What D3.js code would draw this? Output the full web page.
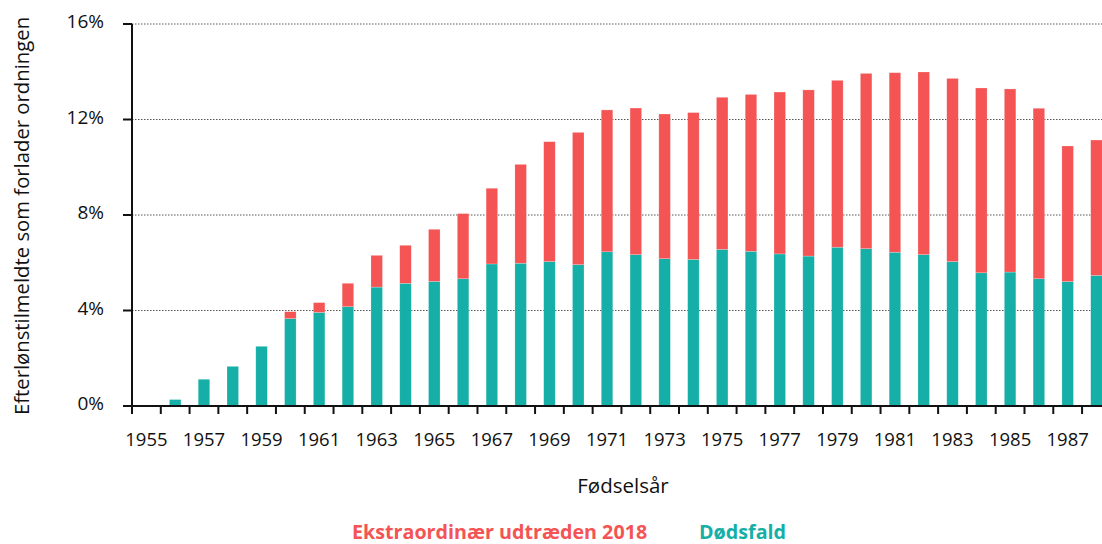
<!DOCTYPE html>
<html><head><meta charset="utf-8">
<script src="https://cdn.jsdelivr.net/npm/d3@7"></script>
<style>
body{margin:0;background:#fff;}
svg{display:block;font-family:"Open Sans",Lato,sans-serif;}
</style></head>
<body><svg id="c" width="1102" height="544"></svg>
<script>
const years = d3.range(1955, 1989);
const dodsfald = [0,0.27,1.12,1.66,2.50,3.66,3.92,4.16,4.98,5.14,5.22,5.33,5.95,5.98,6.05,5.92,6.46,6.34,6.17,6.14,6.56,6.48,6.37,6.28,6.65,6.59,6.44,6.34,6.05,5.58,5.61,5.33,5.21,5.47];
const total = [0,0.27,1.12,1.66,2.50,3.95,4.33,5.14,6.31,6.73,7.40,8.06,9.12,10.12,11.07,11.46,12.40,12.48,12.23,12.29,12.93,13.05,13.15,13.24,13.64,13.93,13.96,13.99,13.72,13.32,13.28,12.47,10.89,11.14];
const ekstra = total.map((t,i)=>Math.max(0,+(t-dodsfald[i]).toFixed(2)));
const yTicks = [0,4,8,12,16];
const xTickLabels = years.filter(y=>(y-1955)%2===0);
const seriesNames = ["Ekstraordinær udtræden 2018","Dødsfald"];
const colors = {"Ekstraordinær udtræden 2018":"#F45454","Dødsfald":"#15AFA8"};

const svg = d3.select("#c");
const x0 = 132, bw = 28.79;
const x = d3.scaleBand().domain(years).range([x0, x0 + bw*years.length]).paddingInner(0.6).paddingOuter(0.3);
const y = d3.scaleLinear().domain([0,16]).range([406,24]);

// grid
svg.append("g").selectAll("line").data(yTicks.filter(d=>d>0)).join("line")
  .attr("x1",x0).attr("x2",1102).attr("y1",d=>y(d)).attr("y2",d=>y(d))
  .attr("stroke","#555").attr("stroke-width",1).attr("stroke-dasharray","1.5,1.5");

// stacked bars
const rows = years.map((yr,i)=>({year:yr,"Dødsfald":dodsfald[i],"Ekstraordinær udtræden 2018":ekstra[i]}));
const stack = d3.stack().keys(["Dødsfald","Ekstraordinær udtræden 2018"])(rows);
svg.append("g").selectAll("g").data(stack).join("g").attr("fill",d=>colors[d.key])
  .selectAll("rect").data(d=>d).join("rect")
  .attr("x",d=>x(d.data.year)).attr("width",x.bandwidth())
  .attr("y",d=>y(d[1])).attr("height",d=>Math.max(0,y(d[0])-y(d[1])))
  .attr("stroke","rgba(255,255,255,0.35)").attr("stroke-width",0.6);

// x axis
const xAxis = svg.append("g").attr("transform","translate(0,406)");
xAxis.append("line").attr("x1",x0-9).attr("x2",1102).attr("stroke","#111").attr("stroke-width",2);
const tickPos = d3.range(0, years.length).map(i=>x0 + i*bw);
xAxis.selectAll("line.t").data(tickPos).join("line").attr("class","t")
  .attr("x1",d=>d).attr("x2",d=>d).attr("y1",0).attr("y2",8).attr("stroke","#111").attr("stroke-width",2);
xAxis.selectAll("text").data(xTickLabels).join("text")
  .attr("x",d=>x(d)+x.bandwidth()/2).attr("y",40).attr("text-anchor","middle")
  .attr("font-size",18.5).attr("fill","#111").text(d=>d);

// y axis
const yAxis = svg.append("g");
yAxis.append("line").attr("x1",x0).attr("x2",x0).attr("y1",y(16)).attr("y2",y(0)).attr("stroke","#111").attr("stroke-width",2);
yAxis.selectAll("line.t").data(yTicks).join("line").attr("class","t")
  .attr("x1",x0-9).attr("x2",x0).attr("y1",d=>y(d)).attr("y2",d=>y(d)).attr("stroke","#111").attr("stroke-width",2);
yAxis.selectAll("text").data(yTicks).join("text")
  .attr("x",104).attr("y",d=>y(d)+4).attr("text-anchor","end")
  .attr("font-size",19).attr("fill","#111").text(d=>d+"%");

// titles
svg.append("text").attr("transform","translate(29,216) rotate(-90)").attr("text-anchor","middle")
  .attr("font-size",20.3).attr("fill","#111").text("Efterlønstilmeldte som forlader ordningen");
svg.append("text").attr("x",623).attr("y",493).attr("text-anchor","middle")
  .attr("font-size",20.5).attr("fill","#111").text("Fødselsår");

// legend
svg.append("text").attr("x",352).attr("y",539).attr("font-size",19.7).attr("font-weight","bold")
  .attr("fill",colors[seriesNames[0]]).text(seriesNames[0]);
svg.append("text").attr("x",699).attr("y",539).attr("font-size",19.7).attr("font-weight","bold")
  .attr("fill",colors[seriesNames[1]]).text(seriesNames[1]);
</script></body></html>
